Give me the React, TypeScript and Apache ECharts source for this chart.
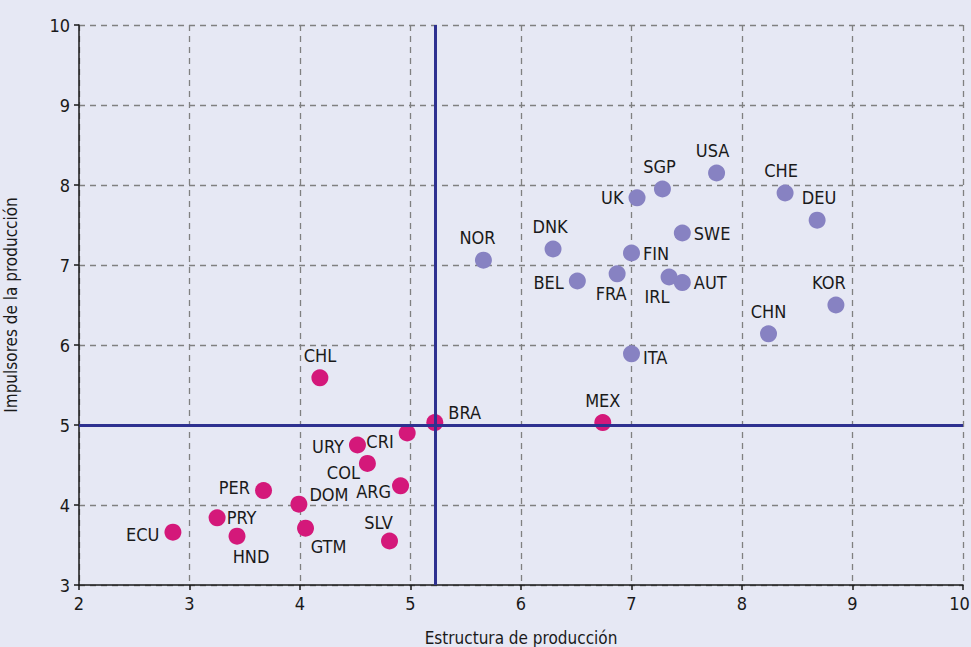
import React, { useEffect, useRef } from "react";
import * as echarts from "echarts";

const latamNames = ["CHL", "BRA", "MEX", "CRI", "URY", "COL", "ARG", "PER", "DOM", "PRY", "ECU", "HND", "GTM", "SLV"];
const latamX = [4.18, 5.22, 6.74, 4.97, 4.52, 4.61, 4.91, 3.67, 3.99, 3.25, 2.85, 3.43, 4.05, 4.81];
const latamY = [5.59, 5.03, 5.03, 4.9, 4.75, 4.52, 4.24, 4.18, 4.01, 3.84, 3.66, 3.61, 3.71, 3.55];

const otherNames = ["NOR", "DNK", "BEL", "FRA", "FIN", "UK", "SGP", "USA", "SWE", "IRL", "AUT", "ITA", "CHE", "DEU", "KOR", "CHN"];
const otherX = [5.66, 6.29, 6.51, 6.87, 7.0, 7.05, 7.28, 7.77, 7.46, 7.34, 7.46, 7.0, 8.39, 8.68, 8.85, 8.24];
const otherY = [7.06, 7.2, 6.8, 6.89, 7.15, 7.84, 7.95, 8.15, 7.4, 6.85, 6.78, 5.89, 7.9, 7.56, 6.5, 6.14];

const refX = 5.22;
const refY = 5;

const xMin = 2;
const xMax = 10;
const yMin = 3;
const yMax = 10;

const xTitle = "Estructura de producción";
const yTitle = "Impulsores de la producción";

// label placement per country: [position, dx, dy]
const labelPlacement: Record<string, [string, number, number]> = {
  CHL: ["top", 0, 0],
  BRA: ["right", 0, -10],
  MEX: ["top", 0, 0],
  CRI: ["left", 0, 8],
  URY: ["left", 0, 1],
  COL: ["left", 6, 9],
  ARG: ["left", 4, 6],
  PER: ["left", 0, -3],
  DOM: ["right", -3, -10],
  PRY: ["right", -4, 0],
  ECU: ["left", 0, 2],
  HND: ["bottom", 14, -2],
  GTM: ["bottom", 23, -4],
  SLV: ["top", -11, 4],
  NOR: ["top", -6, 0],
  DNK: ["top", -3, 0],
  BEL: ["left", 0, 1],
  FRA: ["bottom", -6, -3],
  FIN: ["right", -2, 0],
  UK: ["left", 0, 0],
  SGP: ["top", -3, 0],
  USA: ["top", -4, 0],
  SWE: ["right", -2, 0],
  IRL: ["bottom", -12, -3],
  AUT: ["right", -2, 0],
  ITA: ["right", -2, 4],
  CHE: ["top", -4, 0],
  DEU: ["top", 2, 0],
  KOR: ["top", -7, 0],
  CHN: ["top", 0, 0],
};

const FONT = "'Liberation Sans Narrow', 'DejaVu Sans Condensed', 'Roboto', sans-serif";

function buildData(names: string[], xs: number[], ys: number[]) {
  return names.map((n, i) => {
    const p = labelPlacement[n] || ["top", 0, 0];
    return {
      name: n,
      value: [xs[i], ys[i]],
      label: { position: p[0], offset: [p[1], p[2]] },
    };
  });
}

export default function App() {
  const ref = useRef<HTMLDivElement>(null);
  useEffect(() => {
    if (!ref.current) return;
    const chart = echarts.init(ref.current, null, { renderer: "svg" });
    const labelStyle = {
      show: true,
      formatter: "{b}",
      color: "#1a1a1a",
      fontSize: 18,
      fontFamily: FONT,
      distance: 5,
    };
    chart.setOption({
      animation: false,
      backgroundColor: "#e6e8f4",
      grid: { left: 79, right: 8, top: 25, bottom: 62, outerBoundsMode: "none", containLabel: false },
      xAxis: {
        type: "value",
        min: xMin,
        max: xMax,
        interval: 1,
        name: xTitle,
        nameLocation: "middle",
        nameGap: 44,
        nameTextStyle: { color: "#1a1a1a", fontSize: 17, fontFamily: FONT },
        axisLine: { show: true, onZero: false, lineStyle: { color: "#1a1a1a", width: 1.5 } },
        axisTick: { show: true, length: 5, lineStyle: { color: "#1a1a1a", width: 1.5 } },
        axisLabel: {
          color: "#1a1a1a",
          fontSize: 18,
          fontFamily: FONT,
          margin: 9,
          formatter: (v: number) => (v === xMax ? `{m|${v}}` : `${v}`),
          rich: {
            m: { color: "#1a1a1a", fontSize: 18, fontFamily: FONT, padding: [0, 7, 0, 0] },
          },
        },
        splitLine: { show: true, lineStyle: { color: "#808080", type: [6, 5], width: 1.3 } },
      },
      yAxis: {
        type: "value",
        min: yMin,
        max: yMax,
        interval: 1,
        name: yTitle,
        nameLocation: "middle",
        nameGap: 60,
        nameTextStyle: { color: "#1a1a1a", fontSize: 17, fontFamily: FONT },
        axisLine: { show: true, onZero: false, lineStyle: { color: "#1a1a1a", width: 1.5 } },
        axisTick: { show: true, length: 5, lineStyle: { color: "#1a1a1a", width: 1.5 } },
        axisLabel: { color: "#1a1a1a", fontSize: 18, fontFamily: FONT, margin: 9 },
        splitLine: { show: true, lineStyle: { color: "#808080", type: [6, 5], width: 1.3 } },
      },
      series: [
        {
          type: "scatter",
          data: [],
          silent: true,
          markLine: {
            silent: true,
            symbol: "none",
            label: { show: false },
            lineStyle: { color: "#2e3190", width: 3, type: "solid" },
            data: [{ xAxis: refX }, { yAxis: refY }],
          },
          z: 1,
        },
        {
          type: "scatter",
          symbolSize: 17,
          itemStyle: { color: "#8782c2", opacity: 1 },
          label: labelStyle,
          data: buildData(otherNames, otherX, otherY),
          z: 3,
        },
        {
          type: "scatter",
          symbolSize: 17,
          itemStyle: { color: "#d4187a", opacity: 1 },
          label: labelStyle,
          data: buildData(latamNames, latamX, latamY),
          z: 3,
        },
      ],
    });
    return () => chart.dispose();
  }, []);
  return <div ref={ref} style={{ width: 971, height: 647, position: "fixed", left: 0, top: 0 }} />;
}
